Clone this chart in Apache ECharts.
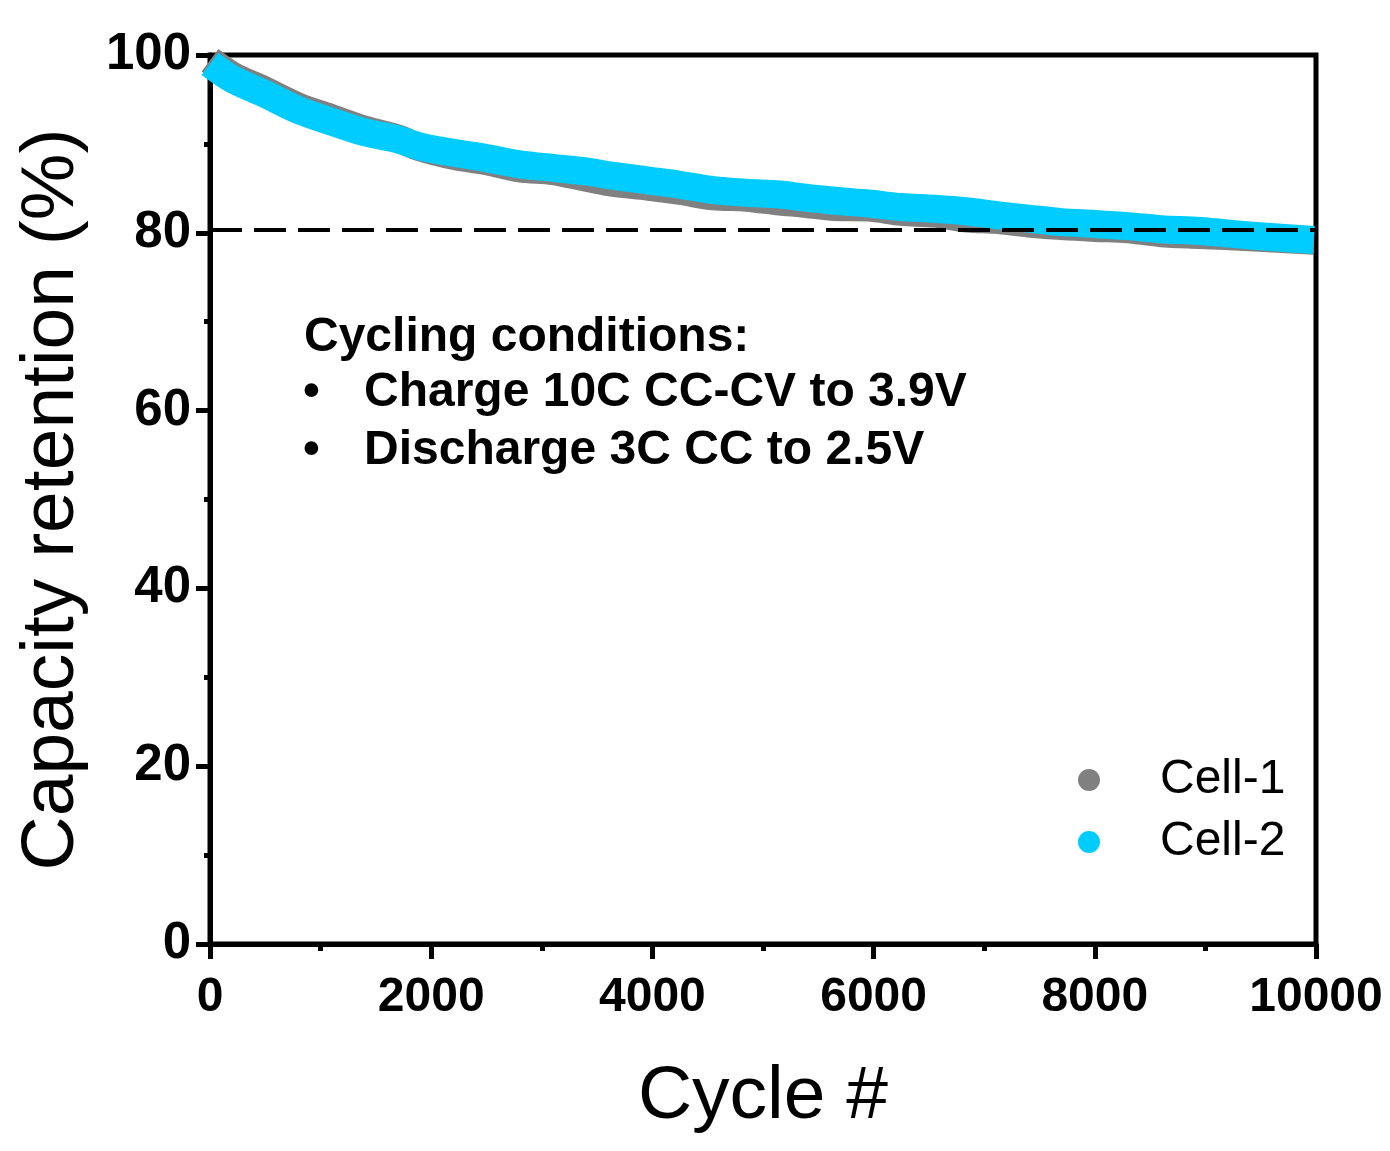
<!DOCTYPE html>
<html>
<head>
<meta charset="utf-8">
<script src="https://cdn.jsdelivr.net/npm/echarts@6/dist/echarts.min.js"></script>
<style>
    html, body { margin: 0; padding: 0; background: #fff; }
    #chart { width: 1390px; height: 1151px; }
</style>
</head>
<body>
<div id="chart"></div>
<script>
// values (band centres)
const cycles = [0, 200, 500, 800, 1100, 1400, 1700, 1900, 2200, 2500, 2800, 3100, 3400, 3650, 3950,
    4250, 4550, 4850, 5150, 5350, 5650, 5950, 6250, 6550, 6850, 7100, 7400, 7700, 8000, 8300,
    8600, 8950, 9400, 9980];
const cell_1 = [99.4, 97.7, 96.0, 94.2, 92.9, 91.6, 90.6, 89.6, 88.65, 88.05, 87.25, 86.95, 86.2, 85.6, 85.2,
    84.7, 84.1, 83.95, 83.5, 83.3, 82.9, 82.85, 82.35, 82.15, 81.6, 81.45, 81.05, 80.75, 80.55, 80.4,
    79.95, 79.75, 79.5, 79.1];
const cell_2 = [99.0, 97.3, 95.6, 93.8, 92.5, 91.3, 90.5, 89.7, 89.0, 88.4, 87.7, 87.3, 86.9, 86.4, 85.9,
    85.4, 84.8, 84.5, 84.3, 84.0, 83.6, 83.3, 82.9, 82.7, 82.4, 82.0, 81.6, 81.2, 81.0, 80.75,
    80.4, 80.2, 79.7, 79.2];
const series_names = ['Cell-1', 'Cell-2'];
const threshold = 80.3;  // dashed line
const note_lines = ['Cycling conditions:', 'Charge 10C CC-CV to 3.9V', 'Discharge 3C CC to 2.5V'];

const font = 'Arial, "Liberation Sans", sans-serif';
const grey = '#808080';
const cyan = '#00CCFF';

let chart = echarts.init(document.getElementById('chart'));

let option = {
    animation: false,
    backgroundColor: '#fff',
    grid: {
        left: 210, right: 74, top: 55, bottom: 207,
        show: true,
        borderColor: '#000',
        borderWidth: 5,
    },
    legend: {
        orient: 'vertical',
        left: 1073,
        top: 751,
        icon: 'circle',
        itemWidth: 22,
        itemHeight: 22,
        itemGap: 14,
        data: series_names,
        textStyle: {
            fontFamily: font,
            fontSize: 48,
            color: '#000',
            padding: [0, 0, 0, 55],
        },
    },
    xAxis: {
        type: 'value',
        min: 0,
        max: 10000,
        interval: 2000,
        name: 'Cycle #',
        nameLocation: 'middle',
        nameGap: 116,
        nameTextStyle: { fontFamily: font, fontSize: 75, color: '#000' },
        axisLine: { show: true, lineStyle: { color: '#000', width: 5 } },
        axisTick: { show: true, length: 15, lineStyle: { color: '#000', width: 5 } },
        minorTick: { show: true, splitNumber: 2, length: 7, lineStyle: { color: '#000', width: 5 } },
        axisLabel: {
            fontFamily: font, fontSize: 48, fontWeight: 'bold', color: '#000', margin: 30,
            formatter: (v) => String(v),
        },
        splitLine: { show: false },
    },
    yAxis: {
        type: 'value',
        min: 0,
        max: 100,
        interval: 20,
        name: 'Capacity retention (%)',
        nameLocation: 'middle',
        nameGap: 120,
        nameTextStyle: { fontFamily: font, fontSize: 75, color: '#000' },
        axisLine: { show: true, lineStyle: { color: '#000', width: 5 } },
        axisTick: { show: true, length: 14, lineStyle: { color: '#000', width: 5 } },
        minorTick: { show: true, splitNumber: 2, length: 6, lineStyle: { color: '#000', width: 5 } },
        axisLabel: { fontFamily: font, fontSize: 51, fontWeight: 'bold', color: '#000', margin: 19 },
        splitLine: { show: false },
    },
    graphic: [
        {
            type: 'text', left: 304, top: 314,
            style: { text: note_lines[0], font: 'bold 48px ' + font, fill: '#000' },
        },
        {
            type: 'text', left: 303, top: 369,
            style: { text: '•', font: 'bold 48px ' + font, fill: '#000' },
        },
        {
            type: 'text', left: 364, top: 369,
            style: { text: note_lines[1], font: 'bold 48px ' + font, fill: '#000' },
        },
        {
            type: 'text', left: 303, top: 427,
            style: { text: '•', font: 'bold 48px ' + font, fill: '#000' },
        },
        {
            type: 'text', left: 364, top: 427,
            style: { text: note_lines[2], font: 'bold 48px ' + font, fill: '#000' },
        },
    ],
    series: [
        {
            name: series_names[0],
            type: 'line',
            smooth: 0.3,
            symbol: 'none',
            color: grey,
            lineStyle: { width: 28, color: grey, join: 'round' },
            data: cycles.map((c, i) => [c, cell_1[i]]),
            z: 2,
        },
        {
            name: series_names[1],
            type: 'line',
            smooth: 0.3,
            symbol: 'none',
            color: cyan,
            lineStyle: { width: 28, color: cyan, join: 'round' },
            data: cycles.map((c, i) => [c, cell_2[i]]),
            z: 3,
            markLine: {
                silent: true,
                symbol: 'none',
                label: { show: false },
                lineStyle: { color: '#000', width: 4, type: [32, 12] },
                data: [{ yAxis: threshold }],
                z: 10,
            },
        },
    ],
};
chart.setOption(option);
</script>
</body>
</html>
